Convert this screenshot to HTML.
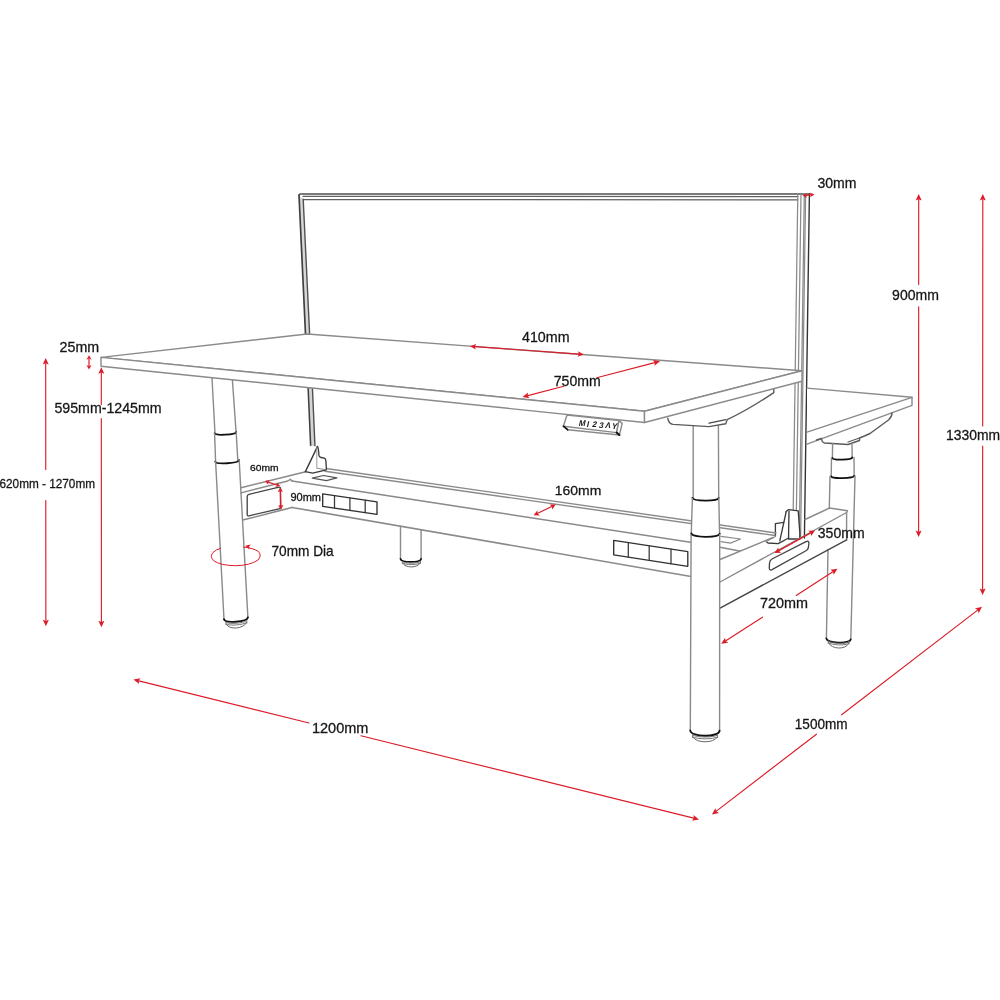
<!DOCTYPE html>
<html><head><meta charset="utf-8"><style>
html,body{margin:0;padding:0;background:#fff;}
svg{display:block;will-change:transform;}
text{font-family:"Liberation Sans",sans-serif;}
</style></head><body>
<svg width="1000" height="1000" viewBox="0 0 1000 1000">
<rect width="1000" height="1000" fill="#fff"/>
<path d="M299.00,195.50 L299.50,194.20 L301.00,193.90 L810.00,194.00" fill="none" stroke="#505050" stroke-width="1.4" stroke-linejoin="round" stroke-linecap="round" />
<path d="M303.00,196.40 L798.00,196.60" fill="none" stroke="#606060" stroke-width="1.26" stroke-linejoin="round" stroke-linecap="round" />
<path d="M303.50,199.60 L798.00,199.80" fill="none" stroke="#606060" stroke-width="1.26" stroke-linejoin="round" stroke-linecap="round" />
<path d="M299,196 L305.6,336 L309.7,336 L303.2,199.3Z" fill="#d8d8d8"/>
<path d="M299.00,195.00 L305.60,336.00" fill="none" stroke="#404040" stroke-width="1.68" stroke-linejoin="round" stroke-linecap="round" />
<path d="M303.20,199.30 L309.70,336.00" fill="none" stroke="#505050" stroke-width="1.4" stroke-linejoin="round" stroke-linecap="round" />
<path d="M308.0,385 L310.7,446 L315.0,446 L312.3,385Z" fill="#d4d4d4"/>
<path d="M308.00,385.00 L310.70,447.00" fill="none" stroke="#404040" stroke-width="1.54" stroke-linejoin="round" stroke-linecap="round" />
<path d="M312.30,385.00 L315.00,447.00" fill="none" stroke="#505050" stroke-width="1.4" stroke-linejoin="round" stroke-linecap="round" />
<path d="M797.80,194.00 L792.80,538.00" fill="none" stroke="#8a8a8a" stroke-width="1.26" stroke-linejoin="round" stroke-linecap="round" />
<path d="M801.00,194.00 L796.00,538.00" fill="none" stroke="#8a8a8a" stroke-width="1.26" stroke-linejoin="round" stroke-linecap="round" />
<path d="M804.30,194.00 L799.30,538.00" fill="none" stroke="#8a8a8a" stroke-width="1.26" stroke-linejoin="round" stroke-linecap="round" />
<path d="M805.60,194.00 L800.60,538.00" fill="none" stroke="#8a8a8a" stroke-width="1.26" stroke-linejoin="round" stroke-linecap="round" />
<path d="M809.40,194.00 L804.40,538.00" fill="none" stroke="#333333" stroke-width="1.4" stroke-linejoin="round" stroke-linecap="round" />
<path d="M807.00,388.10 L912.00,397.30 L912.00,405.30 L807.00,444.20" fill="#fff" stroke="#8a8a8a" stroke-width="1.4" stroke-linejoin="round" stroke-linecap="round" />
<path d="M912.00,397.30 L807.00,432.20" fill="none" stroke="#8a8a8a" stroke-width="1.4" stroke-linejoin="round" stroke-linecap="round" />
<path d="M816.5,440 L821.5,438.5 Q822,442.5 824.5,443 L848,444.5 L859.5,440.5 L859.5,438 Q866,435.5 870,433.5 L888.5,420 Q892,417 892,413" fill="none" stroke="#5a5a5a" stroke-width="1.4" stroke-linejoin="round" stroke-linecap="round" />
<path d="M848,442 L859.5,438" fill="none" stroke="#5a5a5a" stroke-width="1.26" stroke-linejoin="round" stroke-linecap="round" />
<path d="M832.60,443.80 L832.40,458.00" fill="none" stroke="#8a8a8a" stroke-width="1.4" stroke-linejoin="round" stroke-linecap="round" />
<path d="M852.00,443.80 L852.20,458.00" fill="none" stroke="#8a8a8a" stroke-width="1.4" stroke-linejoin="round" stroke-linecap="round" />
<path d="M832.4,458.0 C833.00,460.53 851.60,460.03 852.2,457.5" fill="none" stroke="#111" stroke-width="1.8" stroke-linecap="round"/>
<path d="M831.50,458.00 L831.20,476.30" fill="none" stroke="#8a8a8a" stroke-width="1.4" stroke-linejoin="round" stroke-linecap="round" />
<path d="M854.00,457.50 L854.20,476.00" fill="none" stroke="#8a8a8a" stroke-width="1.4" stroke-linejoin="round" stroke-linecap="round" />
<path d="M831.2,476.3 C831.80,479.09 853.60,478.59 854.2,475.8" fill="none" stroke="#111" stroke-width="1.8" stroke-linecap="round"/>
<path d="M830.00,476.50 L829.30,508.50" fill="none" stroke="#8a8a8a" stroke-width="1.4" stroke-linejoin="round" stroke-linecap="round" />
<path d="M828.00,549.50 L826.40,638.30" fill="none" stroke="#8a8a8a" stroke-width="1.4" stroke-linejoin="round" stroke-linecap="round" />
<path d="M855.00,476.00 L850.80,639.40" fill="none" stroke="#8a8a8a" stroke-width="1.4" stroke-linejoin="round" stroke-linecap="round" />
<path d="M826.3,638.3 C826.90,643.22 850.10,644.32 850.7,639.4" fill="none" stroke="#111" stroke-width="1.8" stroke-linecap="round"/>
<path d="M828.2,641.0 C831.32,643.77 845.88,644.37 849.0,641.6" fill="none" stroke="#666666" stroke-width="0.9" stroke-linecap="round"/>
<path d="M828.2,642.6 C831.32,645.37 845.88,645.97 849.0,643.2" fill="none" stroke="#666666" stroke-width="0.9" stroke-linecap="round"/>
<path d="M828.7,643.2 C831.67,649.32 845.53,649.92 848.5,643.8000000000001" fill="none" stroke="#555555" stroke-width="0.9" stroke-linecap="round"/>
<path d="M828.20,641.00 L828.20,643.20" fill="none" stroke="#777777" stroke-width="0.9799999999999999" stroke-linejoin="round" stroke-linecap="round" />
<path d="M849.00,641.60 L849.00,643.80" fill="none" stroke="#777777" stroke-width="0.9799999999999999" stroke-linejoin="round" stroke-linecap="round" />
<path d="M786.2,511.6 L788.6,509.6 L798.2,510.8 L799.8,532.8 L799.8,539 L788.6,539 L788.6,533.2 L789,511.3" fill="#fff" stroke="#3a3a3a" stroke-width="1.3299999999999998" stroke-linejoin="round" stroke-linecap="round" />
<path d="M786.20,511.60 L779.80,540.80" fill="none" stroke="#3a3a3a" stroke-width="1.3299999999999998" stroke-linejoin="round" stroke-linecap="round" />
<path d="M775.4,536 L775.4,523.6 L783.8,522.4" fill="none" stroke="#3a3a3a" stroke-width="1.3299999999999998" stroke-linejoin="round" stroke-linecap="round" />
<path d="M766.2,541.6 L768,543 L778.2,543.6 L788.6,538" fill="none" stroke="#3a3a3a" stroke-width="1.3299999999999998" stroke-linejoin="round" stroke-linecap="round" />
<path d="M766.20,541.60 L775.40,536.50" fill="none" stroke="#8a8a8a" stroke-width="1.1199999999999999" stroke-linejoin="round" stroke-linecap="round" />
<path d="M326.00,468.50 L776.00,533.00" fill="none" stroke="#8a8a8a" stroke-width="1.4" stroke-linejoin="round" stroke-linecap="round" />
<path d="M325.00,471.30 L775.00,535.50" fill="none" stroke="#8a8a8a" stroke-width="1.4" stroke-linejoin="round" stroke-linecap="round" />
<path d="M292.00,481.00 L692.00,542.40" fill="none" stroke="#8a8a8a" stroke-width="1.54" stroke-linejoin="round" stroke-linecap="round" />
<path d="M720.00,547.30 L739.50,551.00" fill="none" stroke="#8a8a8a" stroke-width="1.4" stroke-linejoin="round" stroke-linecap="round" />
<path d="M292.00,507.40 L691.00,576.50" fill="none" stroke="#8a8a8a" stroke-width="1.54" stroke-linejoin="round" stroke-linecap="round" />
<path d="M312.30,478.20 L323.40,475.50 L336.90,477.90 L326.40,480.60Z" fill="none" stroke="#555555" stroke-width="1.26" stroke-linejoin="round" stroke-linecap="round" />
<path d="M721.00,536.30 L740.50,539.00 L730.50,543.20 L721.00,541.70" fill="none" stroke="#8a8a8a" stroke-width="1.26" stroke-linejoin="round" stroke-linecap="round" />
<path d="M241.00,487.80 L305.70,471.70" fill="none" stroke="#8a8a8a" stroke-width="1.4" stroke-linejoin="round" stroke-linecap="round" />
<path d="M241.00,492.90 L287.80,481.00 L290.40,479.30 L292.00,481.00" fill="none" stroke="#8a8a8a" stroke-width="1.4" stroke-linejoin="round" stroke-linecap="round" />
<path d="M242.75,520.10 L292.00,507.40" fill="none" stroke="#8a8a8a" stroke-width="1.54" stroke-linejoin="round" stroke-linecap="round" />
<path d="M249,494.3 L279,487.2 Q280.5,487 280.5,488.5 L280.5,507.6 Q280.5,508.5 279,508.8 L249,515.8 Q247.2,516.2 247.2,514.5 L247.2,496.2 Q247.2,494.7 249,494.3Z" fill="none" stroke="#444444" stroke-width="1.3299999999999998" stroke-linejoin="round" stroke-linecap="round" />
<path d="M310.2,445.8 L317.4,446.4 L326.4,469.8 L305.4,471.6Z" fill="#fff"/>
<path d="M317.4,446.4 Q318.6,447.5 318.9,455.4 Q319.3,457.3 321,457.5 L324.2,458.2 Q325.9,459 325.9,461 L326.4,469.8 L312.6,473.1 L305.4,471.6" fill="none" stroke="#3a3a3a" stroke-width="1.3299999999999998" stroke-linejoin="round" stroke-linecap="round" />
<path d="M305.40,471.60 L317.40,446.60" fill="none" stroke="#3a3a3a" stroke-width="1.4" stroke-linejoin="round" stroke-linecap="round" />
<path d="M317.40,468.30 L326.40,469.80" fill="none" stroke="#777777" stroke-width="0.84" stroke-linejoin="round" stroke-linecap="round" />
<path d="M316.80,447.50 L316.80,468.30" fill="none" stroke="#999999" stroke-width="0.9799999999999999" stroke-linejoin="round" stroke-linecap="round" />
<path d="M322.70,493.90 L377.00,501.80 L377.00,514.30 L322.70,506.40Z" fill="none" stroke="#303030" stroke-width="1.3299999999999998" stroke-linejoin="round" stroke-linecap="round" />
<path d="M334.50,495.62 L334.50,508.12" fill="none" stroke="#383838" stroke-width="1.26" stroke-linejoin="round" stroke-linecap="round" />
<path d="M349.90,497.86 L349.90,510.36" fill="none" stroke="#383838" stroke-width="1.26" stroke-linejoin="round" stroke-linecap="round" />
<path d="M365.20,500.08 L365.20,512.58" fill="none" stroke="#383838" stroke-width="1.26" stroke-linejoin="round" stroke-linecap="round" />
<path d="M613.70,540.30 L687.80,551.70 L687.80,566.30 L613.70,554.90Z" fill="none" stroke="#303030" stroke-width="1.3299999999999998" stroke-linejoin="round" stroke-linecap="round" />
<path d="M628.30,542.55 L628.30,557.15" fill="none" stroke="#383838" stroke-width="1.26" stroke-linejoin="round" stroke-linecap="round" />
<path d="M649.20,545.76 L649.20,560.36" fill="none" stroke="#383838" stroke-width="1.26" stroke-linejoin="round" stroke-linecap="round" />
<path d="M671.00,549.12 L671.00,563.72" fill="none" stroke="#383838" stroke-width="1.26" stroke-linejoin="round" stroke-linecap="round" />
<path d="M400.50,526.30 L400.50,559.30" fill="none" stroke="#8a8a8a" stroke-width="1.4" stroke-linejoin="round" stroke-linecap="round" />
<path d="M421.10,529.80 L421.10,559.30" fill="none" stroke="#8a8a8a" stroke-width="1.4" stroke-linejoin="round" stroke-linecap="round" />
<path d="M400.5,558.8 C401.10,562.79 420.50,562.79 421.1,558.8" fill="none" stroke="#111" stroke-width="1.7" stroke-linecap="round"/>
<path d="M402.3,561.5 C405.01,563.84 417.69,563.84 420.4,561.5" fill="none" stroke="#666666" stroke-width="0.9" stroke-linecap="round"/>
<path d="M402.3,562.9 C405.01,565.24 417.69,565.24 420.4,562.9" fill="none" stroke="#666666" stroke-width="0.9" stroke-linecap="round"/>
<path d="M402.8,563.425 C405.37,568.21 417.33,568.21 419.9,563.425" fill="none" stroke="#555555" stroke-width="0.9" stroke-linecap="round"/>
<path d="M402.30,561.50 L402.30,563.42" fill="none" stroke="#777777" stroke-width="0.9799999999999999" stroke-linejoin="round" stroke-linecap="round" />
<path d="M420.40,561.50 L420.40,563.42" fill="none" stroke="#777777" stroke-width="0.9799999999999999" stroke-linejoin="round" stroke-linecap="round" />
<path d="M720,582 L846.6,512.5 L847.5,510.7 L829.5,508 L805,519.5" fill="none" stroke="#8a8a8a" stroke-width="1.4" stroke-linejoin="round" stroke-linecap="round" />
<path d="M720.00,559.50 L773.00,537.50" fill="none" stroke="#8a8a8a" stroke-width="1.4" stroke-linejoin="round" stroke-linecap="round" />
<path d="M846.60,512.50 L846.60,539.90" fill="none" stroke="#8a8a8a" stroke-width="1.4" stroke-linejoin="round" stroke-linecap="round" />
<path d="M719.60,608.30 L846.60,539.90" fill="none" stroke="#444444" stroke-width="1.4" stroke-linejoin="round" stroke-linecap="round" />
<path d="M772,559 L806,541.6 Q809.5,540.2 808.8,544 L808.3,548 Q807.8,550 805.5,551 L772,569.6 Q769.2,571 769.3,567.5 L769.5,563 Q769.8,560.2 772,559Z" fill="none" stroke="#444444" stroke-width="1.3299999999999998" stroke-linejoin="round" stroke-linecap="round" />
<path d="M693.2,426 L718.4,426 L718.7,497.8 L719.7,534.4 L719.6,730.6 L690.4,730.6 L691.1,535 L692.9,498.3Z" fill="#fff"/>
<path d="M693.20,426.00 L693.20,498.50" fill="none" stroke="#8a8a8a" stroke-width="1.4" stroke-linejoin="round" stroke-linecap="round" />
<path d="M718.40,426.00 L718.70,497.80" fill="none" stroke="#8a8a8a" stroke-width="1.4" stroke-linejoin="round" stroke-linecap="round" />
<path d="M692.4,497.9 C693.00,501.36 718.00,501.46 718.6,498.0" fill="none" stroke="#111" stroke-width="1.8" stroke-linecap="round"/>
<path d="M692.40,498.50 L691.20,535.20" fill="none" stroke="#8a8a8a" stroke-width="1.4" stroke-linejoin="round" stroke-linecap="round" />
<path d="M718.80,498.00 L719.60,534.40" fill="none" stroke="#8a8a8a" stroke-width="1.4" stroke-linejoin="round" stroke-linecap="round" />
<path d="M691.4,533.4 C692.00,537.79 719.10,537.99 719.7,533.6" fill="none" stroke="#111" stroke-width="1.8" stroke-linecap="round"/>
<path d="M691.10,535.00 L690.30,730.60" fill="none" stroke="#8a8a8a" stroke-width="1.4" stroke-linejoin="round" stroke-linecap="round" />
<path d="M719.70,534.40 L719.60,730.60" fill="none" stroke="#8a8a8a" stroke-width="1.4" stroke-linejoin="round" stroke-linecap="round" />
<path d="M690.3,730.5 C690.90,737.42 719.00,737.52 719.6,730.6" fill="none" stroke="#111" stroke-width="1.9" stroke-linecap="round"/>
<path d="M692.6,735.0 C696.35,737.77 713.85,737.77 717.6,735.0" fill="none" stroke="#666666" stroke-width="0.9" stroke-linecap="round"/>
<path d="M692.6,736.8 C696.35,739.57 713.85,739.57 717.6,736.8" fill="none" stroke="#666666" stroke-width="0.9" stroke-linecap="round"/>
<path d="M693.1,737.475 C696.70,743.33 713.50,743.33 717.1,737.475" fill="none" stroke="#555555" stroke-width="0.9" stroke-linecap="round"/>
<path d="M692.60,735.00 L692.60,737.48" fill="none" stroke="#777777" stroke-width="0.9799999999999999" stroke-linejoin="round" stroke-linecap="round" />
<path d="M717.60,735.00 L717.60,737.48" fill="none" stroke="#777777" stroke-width="0.9799999999999999" stroke-linejoin="round" stroke-linecap="round" />
<path d="M212.00,378.00 L215.00,433.50" fill="none" stroke="#8a8a8a" stroke-width="1.4" stroke-linejoin="round" stroke-linecap="round" />
<path d="M232.40,380.00 L236.10,432.20" fill="none" stroke="#8a8a8a" stroke-width="1.4" stroke-linejoin="round" stroke-linecap="round" />
<path d="M214.6,433.3 C215.20,435.83 235.60,434.73 236.2,432.2" fill="none" stroke="#111" stroke-width="1.8" stroke-linecap="round"/>
<path d="M214.60,433.50 L215.60,461.60" fill="none" stroke="#8a8a8a" stroke-width="1.4" stroke-linejoin="round" stroke-linecap="round" />
<path d="M236.20,432.20 L237.80,460.20" fill="none" stroke="#8a8a8a" stroke-width="1.4" stroke-linejoin="round" stroke-linecap="round" />
<path d="M215.2,461.6 C215.80,464.79 238.60,463.29 239.2,460.1" fill="none" stroke="#111" stroke-width="1.8" stroke-linecap="round"/>
<path d="M215.60,461.60 L224.00,619.20" fill="none" stroke="#8a8a8a" stroke-width="1.4" stroke-linejoin="round" stroke-linecap="round" />
<path d="M239.20,460.10 L247.90,617.40" fill="none" stroke="#8a8a8a" stroke-width="1.4" stroke-linejoin="round" stroke-linecap="round" />
<path d="M224.0,619.2 C224.60,623.72 247.30,621.92 247.9,617.4" fill="none" stroke="#111" stroke-width="1.9" stroke-linecap="round"/>
<path d="M226.0,622.3 C229.12,624.64 243.68,623.14 246.8,620.8" fill="none" stroke="#666666" stroke-width="0.9" stroke-linecap="round"/>
<path d="M226.0,623.9799999999999 C229.12,626.32 243.68,624.82 246.8,622.4799999999999" fill="none" stroke="#666666" stroke-width="0.9" stroke-linecap="round"/>
<path d="M226.5,624.6099999999999 C229.47,630.20 243.33,628.70 246.3,623.1099999999999" fill="none" stroke="#555555" stroke-width="0.9" stroke-linecap="round"/>
<path d="M226.00,622.30 L226.00,624.61" fill="none" stroke="#777777" stroke-width="0.9799999999999999" stroke-linejoin="round" stroke-linecap="round" />
<path d="M246.80,620.80 L246.80,623.11" fill="none" stroke="#777777" stroke-width="0.9799999999999999" stroke-linejoin="round" stroke-linecap="round" />
<path d="M667.8,418.2 Q668.5,424 673,424.4 L709,426.6 L725.8,423.8 L727.2,419.6 Q748,410 773.8,392.6 L773.8,388.8" fill="none" stroke="#5a5a5a" stroke-width="1.4" stroke-linejoin="round" stroke-linecap="round" />
<path d="M709.00,423.10 L725.80,419.60" fill="none" stroke="#4a4a4a" stroke-width="1.4" stroke-linejoin="round" stroke-linecap="round" />
<path d="M101.00,357.40 L307.00,334.00 L802.00,370.80 L644.50,411.30Z" fill="#fff" stroke="#8a8a8a" stroke-width="1.4" stroke-linejoin="round" stroke-linecap="round" />
<path d="M101.00,357.40 L644.50,411.30 L644.50,422.50 L101.00,366.20Z" fill="#fff" stroke="#8a8a8a" stroke-width="1.4" stroke-linejoin="round" stroke-linecap="round" />
<path d="M644.50,411.30 L802.00,370.80 L802.00,381.30 L644.50,422.50Z" fill="#fff" stroke="#8a8a8a" stroke-width="1.4" stroke-linejoin="round" stroke-linecap="round" />
<path d="M567.00,415.00 L619.00,420.60 L616.60,432.60 L563.40,426.20Z" fill="#fff" stroke="#8a8a8a" stroke-width="1.4" stroke-linejoin="round" stroke-linecap="round" />
<path d="M619.00,420.60 L622.20,423.40 L619.40,435.00 L616.60,432.60Z" fill="#fff" stroke="#8a8a8a" stroke-width="1.4" stroke-linejoin="round" stroke-linecap="round" />
<path d="M563.40,426.20 L567.80,429.80 L619.40,435.00" fill="none" stroke="#8a8a8a" stroke-width="1.4" stroke-linejoin="round" stroke-linecap="round" />
<path d="M616.6,432.6 L619.4,435" fill="none" stroke="#111" stroke-width="2.0" stroke-linejoin="round" stroke-linecap="round" />
<path d="M563.4,426.2 L567.8,429.8" fill="none" stroke="#111" stroke-width="1.6" stroke-linejoin="round" stroke-linecap="round" />
<text x="581.7" y="426.0" font-size="8.2" font-weight="bold" text-anchor="middle" fill="#222" transform="translate(581.7 426.0) skewX(-14) translate(-581.7 -426.0)">M</text>
<text x="587.5" y="426.6" font-size="8.2" font-weight="bold" text-anchor="middle" fill="#222" transform="translate(587.5 426.6) skewX(-14) translate(-587.5 -426.6)">I</text>
<text x="594.0" y="427.2" font-size="8.2" font-weight="bold" text-anchor="middle" fill="#222" transform="translate(594.0 427.2) skewX(-14) translate(-594.0 -427.2)">2</text>
<text x="600.8" y="427.8" font-size="8.2" font-weight="bold" text-anchor="middle" fill="#222" transform="translate(600.8 427.8) skewX(-14) translate(-600.8 -427.8)">3</text>
<text x="607.4" y="428.4" font-size="8.2" font-weight="bold" text-anchor="middle" fill="#222" transform="translate(607.4 428.4) skewX(-14) translate(-607.4 -428.4)">Λ</text>
<text x="613.9" y="429.0" font-size="8.2" font-weight="bold" text-anchor="middle" fill="#222" transform="translate(613.9 429.0) skewX(-14) translate(-613.9 -429.0)">Y</text>
<path d="M805.98,195.42 L811.02,194.88" fill="none" stroke="#dc1c28" stroke-width="1.2" stroke-linejoin="round" stroke-linecap="round" />
<path d="M814.50,194.50 L810.28,197.37 L811.22,194.86 L809.77,192.60Z" fill="#dc1c28"/>
<path d="M802.50,195.80 L806.72,192.93 L805.78,195.44 L807.23,197.70Z" fill="#dc1c28"/>
<path d="M918.70,199.50 L918.67,284.55" fill="none" stroke="#dc1c28" stroke-width="1.15" stroke-linejoin="round" stroke-linecap="round" />
<path d="M918.67,306.92 L918.60,531.50" fill="none" stroke="#dc1c28" stroke-width="1.15" stroke-linejoin="round" stroke-linecap="round" />
<path d="M918.60,537.00 L915.60,530.50 L918.60,531.70 L921.60,530.50Z" fill="#dc1c28"/>
<path d="M918.70,194.00 L921.70,200.50 L918.70,199.30 L915.70,200.50Z" fill="#dc1c28"/>
<path d="M982.80,199.50 L982.68,426.02" fill="none" stroke="#dc1c28" stroke-width="1.15" stroke-linejoin="round" stroke-linecap="round" />
<path d="M982.67,445.99 L982.60,589.50" fill="none" stroke="#dc1c28" stroke-width="1.15" stroke-linejoin="round" stroke-linecap="round" />
<path d="M982.60,595.00 L979.60,588.50 L982.60,589.70 L985.60,588.50Z" fill="#dc1c28"/>
<path d="M982.80,194.00 L985.80,200.50 L982.80,199.30 L979.80,200.50Z" fill="#dc1c28"/>
<path d="M89.00,358.80 L89.00,366.00" fill="none" stroke="#dc1c28" stroke-width="1.2" stroke-linejoin="round" stroke-linecap="round" />
<path d="M89.00,369.60 L86.40,365.00 L89.00,366.20 L91.60,365.00Z" fill="#dc1c28"/>
<path d="M89.00,355.20 L91.60,359.80 L89.00,358.60 L86.40,359.80Z" fill="#dc1c28"/>
<path d="M45.70,363.50 L45.76,469.49" fill="none" stroke="#dc1c28" stroke-width="1.15" stroke-linejoin="round" stroke-linecap="round" />
<path d="M45.78,500.49 L45.85,620.70" fill="none" stroke="#dc1c28" stroke-width="1.15" stroke-linejoin="round" stroke-linecap="round" />
<path d="M45.85,626.20 L42.85,619.70 L45.85,620.90 L48.85,619.70Z" fill="#dc1c28"/>
<path d="M45.70,358.00 L48.70,364.50 L45.70,363.30 L42.70,364.50Z" fill="#dc1c28"/>
<path d="M101.30,372.70 L101.31,404.50" fill="none" stroke="#dc1c28" stroke-width="1.15" stroke-linejoin="round" stroke-linecap="round" />
<path d="M101.32,418.49 L101.40,621.80" fill="none" stroke="#dc1c28" stroke-width="1.15" stroke-linejoin="round" stroke-linecap="round" />
<path d="M101.40,627.30 L98.40,620.80 L101.40,622.00 L104.40,620.80Z" fill="#dc1c28"/>
<path d="M101.30,367.20 L104.30,373.70 L101.30,372.50 L98.30,373.70Z" fill="#dc1c28"/>
<path d="M474.99,346.66 L578.81,354.14" fill="none" stroke="#dc1c28" stroke-width="1.15" stroke-linejoin="round" stroke-linecap="round" />
<path d="M583.80,354.50 L577.61,356.86 L579.01,354.16 L578.02,351.28Z" fill="#dc1c28"/>
<path d="M470.00,346.30 L476.19,343.94 L474.79,346.64 L475.78,349.52Z" fill="#dc1c28"/>
<path d="M654.68,362.68 L596.75,377.72" fill="none" stroke="#dc1c28" stroke-width="1.15" stroke-linejoin="round" stroke-linecap="round" />
<path d="M563.75,386.29 L527.82,395.62" fill="none" stroke="#dc1c28" stroke-width="1.15" stroke-linejoin="round" stroke-linecap="round" />
<path d="M522.50,397.00 L528.04,392.46 L527.63,395.67 L529.55,398.27Z" fill="#dc1c28"/>
<path d="M660.00,361.30 L654.46,365.84 L654.87,362.63 L652.95,360.03Z" fill="#dc1c28"/>
<path d="M268.22,482.11 L276.88,484.99" fill="none" stroke="#dc1c28" stroke-width="1.2" stroke-linejoin="round" stroke-linecap="round" />
<path d="M280.20,486.10 L275.14,487.05 L277.07,485.06 L276.72,482.31Z" fill="#dc1c28"/>
<path d="M264.90,481.00 L269.96,480.05 L268.03,482.04 L268.38,484.79Z" fill="#dc1c28"/>
<path d="M280.34,491.20 L280.86,505.90" fill="none" stroke="#dc1c28" stroke-width="1.3" stroke-linejoin="round" stroke-linecap="round" />
<path d="M281.00,509.90 L278.23,504.99 L280.87,506.10 L283.42,504.81Z" fill="#dc1c28"/>
<path d="M280.20,487.20 L282.97,492.11 L280.33,491.00 L277.78,492.29Z" fill="#dc1c28"/>
<path d="M537.74,513.32 L551.76,506.48" fill="none" stroke="#dc1c28" stroke-width="1.2" stroke-linejoin="round" stroke-linecap="round" />
<path d="M555.80,504.50 L552.09,509.43 L551.94,506.39 L549.63,504.40Z" fill="#dc1c28"/>
<path d="M533.70,515.30 L537.41,510.37 L537.56,513.41 L539.87,515.40Z" fill="#dc1c28"/>
<path d="M778.87,550.57 L810.63,532.93" fill="none" stroke="#dc1c28" stroke-width="1.3" stroke-linejoin="round" stroke-linecap="round" />
<path d="M815.00,530.50 L811.21,536.04 L810.80,532.83 L808.30,530.79Z" fill="#dc1c28"/>
<path d="M774.50,553.00 L778.29,547.46 L778.70,550.67 L781.20,552.71Z" fill="#dc1c28"/>
<path d="M725.82,640.82 L762.49,617.17" fill="none" stroke="#dc1c28" stroke-width="1.15" stroke-linejoin="round" stroke-linecap="round" />
<path d="M796.21,595.42 L832.88,571.78" fill="none" stroke="#dc1c28" stroke-width="1.15" stroke-linejoin="round" stroke-linecap="round" />
<path d="M837.50,568.80 L833.66,574.84 L833.05,571.67 L830.41,569.80Z" fill="#dc1c28"/>
<path d="M721.20,643.80 L725.04,637.76 L725.65,640.93 L728.29,642.80Z" fill="#dc1c28"/>
<path d="M138.84,680.82 L309.03,722.96" fill="none" stroke="#dc1c28" stroke-width="1.15" stroke-linejoin="round" stroke-linecap="round" />
<path d="M360.94,735.81 L693.66,818.18" fill="none" stroke="#dc1c28" stroke-width="1.15" stroke-linejoin="round" stroke-linecap="round" />
<path d="M699.00,819.50 L691.97,820.85 L693.86,818.23 L693.41,815.03Z" fill="#dc1c28"/>
<path d="M133.50,679.50 L140.53,678.15 L138.64,680.77 L139.09,683.97Z" fill="#dc1c28"/>
<path d="M716.36,811.15 L816.41,734.18" fill="none" stroke="#dc1c28" stroke-width="1.15" stroke-linejoin="round" stroke-linecap="round" />
<path d="M841.60,714.80 L977.64,610.15" fill="none" stroke="#dc1c28" stroke-width="1.15" stroke-linejoin="round" stroke-linecap="round" />
<path d="M982.00,606.80 L978.68,613.14 L977.80,610.03 L975.02,608.39Z" fill="#dc1c28"/>
<path d="M712.00,814.50 L715.32,808.16 L716.20,811.27 L718.98,812.91Z" fill="#dc1c28"/>
<path d="M243.5,547 Q253,548 258.5,551.5 Q262,555.5 258,560 Q250,565.5 235.5,565.7 Q220,565.5 213.5,560.5 Q209.5,556.5 213,552.5 Q216,549.5 220.5,548.3" fill="none" stroke="#dc1c28" stroke-width="1.0" stroke-linejoin="round" stroke-linecap="round" />
<path d="M245.30,545.80 L250.79,544.53 L248.98,546.75 L249.49,549.57Z" fill="#dc1c28"/>
<g fill="#161616" stroke="#161616" stroke-width="0.28">
<text x="817.5" y="188" font-size="14" textLength="39" lengthAdjust="spacingAndGlyphs" >30mm</text>
<text x="892.1" y="300.3" font-size="14.2" textLength="46.8" lengthAdjust="spacingAndGlyphs" >900mm</text>
<text x="946" y="439.6" font-size="14" textLength="54" lengthAdjust="spacingAndGlyphs" >1330mm</text>
<text x="59.6" y="351.6" font-size="14" textLength="39.6" lengthAdjust="spacingAndGlyphs" >25mm</text>
<text x="522" y="342" font-size="14" textLength="47.5" lengthAdjust="spacingAndGlyphs" >410mm</text>
<text x="553.75" y="385.5" font-size="14" textLength="47" lengthAdjust="spacingAndGlyphs" >750mm</text>
<text x="54.5" y="413.3" font-size="14.2" textLength="107" lengthAdjust="spacingAndGlyphs" >595mm-1245mm</text>
<text x="-0.5" y="488" font-size="12.4" textLength="95.5" lengthAdjust="spacingAndGlyphs" >620mm - 1270mm</text>
<text x="250" y="470.8" font-size="8.8" textLength="28.5" lengthAdjust="spacingAndGlyphs" >60mm</text>
<text x="290.4" y="501.4" font-size="10.3" textLength="30.6" lengthAdjust="spacingAndGlyphs" >90mm</text>
<text x="554.75" y="495.3" font-size="13.6" textLength="46.5" lengthAdjust="spacingAndGlyphs" >160mm</text>
<text x="271.5" y="555.5" font-size="14.2" textLength="62.2" lengthAdjust="spacingAndGlyphs" >70mm Dia</text>
<text x="817.8" y="537.7" font-size="13.8" textLength="46.8" lengthAdjust="spacingAndGlyphs" >350mm</text>
<text x="760" y="608" font-size="13.8" textLength="48" lengthAdjust="spacingAndGlyphs" >720mm</text>
<text x="312" y="732.9" font-size="13.8" textLength="56.4" lengthAdjust="spacingAndGlyphs" >1200mm</text>
<text x="794.8" y="728.7" font-size="13.8" textLength="52.8" lengthAdjust="spacingAndGlyphs" >1500mm</text>
</g>
</svg>
</body></html>
